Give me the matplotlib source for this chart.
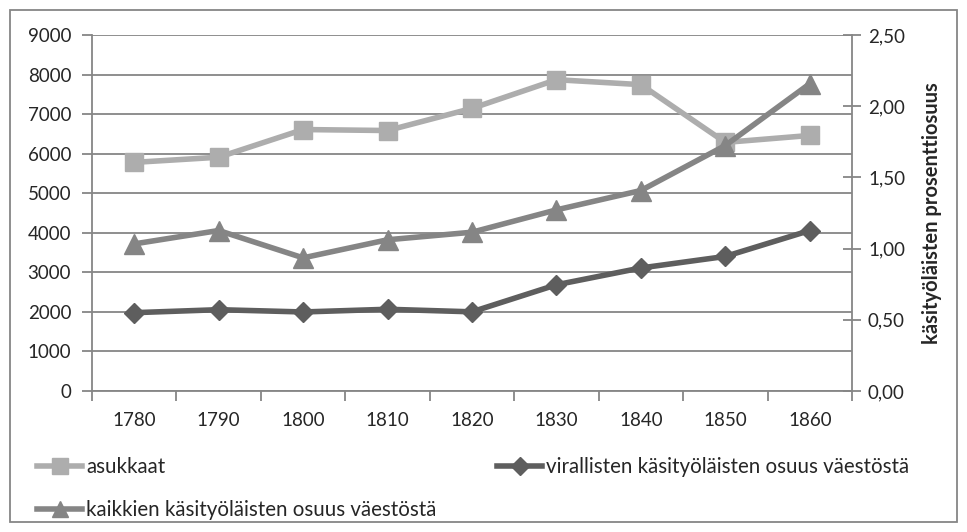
import matplotlib
matplotlib.use("Agg")
import matplotlib.pyplot as plt
from matplotlib.patches import Rectangle
from matplotlib.lines import Line2D
import numpy as np

years = ["1780", "1790", "1800", "1810", "1820", "1830", "1840", "1850", "1860"]
asukkaat = [5780, 5910, 6610, 6585, 7145, 7870, 7745, 6285, 6460]
virallisten = [0.550, 0.571, 0.555, 0.574, 0.556, 0.746, 0.864, 0.945, 1.127]
kaikkien = [1.033, 1.127, 0.935, 1.062, 1.115, 1.272, 1.408, 1.724, 2.158]

left_ticks = list(range(0, 9001, 1000))
right_ticks = [0.0, 0.5, 1.0, 1.5, 2.0, 2.5]
right_labels = ["0,00", "0,50", "1,00", "1,50", "2,00", "2,50"]
right_label = "käsityöläisten prosenttiosuus"
names = ["asukkaat", "virallisten käsityöläisten osuus väestöstä",
         "kaikkien käsityöläisten osuus väestöstä"]

plt.rcParams['font.family'] = ['Lato', 'DejaVu Sans']
FS = 13.5
FS_LEG = 14.8
AXC = "#868686"
c_as = "#ADADAD"
c_vir = "#5E5E5E"
c_kai = "#858585"
TXT = "#262626"

W, H = 967, 532
fig = plt.figure(figsize=(W / 100, H / 100), dpi=100)
fig.patch.set_facecolor("white")
fig.add_artist(Rectangle((10 / W, 1 - 522 / H), 947 / W, 512 / H, transform=fig.transFigure,
                         fill=False, edgecolor=AXC, linewidth=1.3))

L, R, T, B = 92, 852, 35, 391
ax = fig.add_axes([L / W, 1 - B / H, (R - L) / W, (B - T) / H])
ax2 = ax.twinx()

x = np.arange(len(years))
ax.plot(x, asukkaat, color=c_as, lw=4, marker="s", ms=13, zorder=3, clip_on=False)
ax2.plot(x, virallisten, color=c_vir, lw=4, marker="D", ms=10, zorder=3, clip_on=False)
ax2.plot(x, kaikkien, color=c_kai, lw=4, marker="^", ms=15, zorder=3, clip_on=False)

ax.set_xlim(-0.5, len(years) - 0.5)
ax.set_ylim(0, 9000)
ax2.set_ylim(0, 2.5)

ax.set_yticks(left_ticks)
ax.set_yticklabels([str(v) for v in left_ticks], fontsize=FS, color=TXT)
ax.yaxis.grid(True, color=AXC, lw=1.3, zorder=0)
ax.set_axisbelow(True)
ax.tick_params(axis="y", length=7, width=1.3, color=AXC, pad=8)

ax2.set_yticks(right_ticks)
ax2.set_yticklabels(right_labels, fontsize=FS, color=TXT)
ax2.tick_params(axis="y", direction="inout", length=13, width=1.3, color=AXC, pad=5)
ax2.set_ylabel(right_label, fontsize=14.5, fontweight="bold", color=TXT, labelpad=12)

ax.set_xticks(np.arange(-0.5, len(years) + 0.5, 1.0))
ax.set_xticklabels([])
ax.set_xticks(x, minor=True)
ax.set_xticklabels(years, minor=True, fontsize=FS, color=TXT)
ax.tick_params(axis="x", which="major", length=7, width=1.3, color=AXC)
ax.tick_params(axis="x", which="minor", length=0, pad=15)

for a in (ax, ax2):
    a.spines["top"].set_visible(False)
    for s in ("left", "right", "bottom"):
        a.spines[s].set_color(AXC)
        a.spines[s].set_linewidth(1.3)
ax.spines["right"].set_visible(False)
ax2.spines["left"].set_visible(False)
ax2.spines["bottom"].set_visible(False)

handles = [
    Line2D([], [], color=c_as, lw=4, marker="s", ms=11),
    Line2D([], [], color=c_vir, lw=4, marker="D", ms=9),
    Line2D([], [], color=c_kai, lw=4, marker="^", ms=12),
]
pos = [(37, 467), (497, 467), (37, 510)]
for h, n, (px, py) in zip(handles, names, pos):
    fig.legend([h], [n], loc="center left", bbox_to_anchor=(px / W, 1 - py / H),
               frameon=False, fontsize=FS_LEG, handlelength=2.2, handletextpad=0.2,
               borderpad=0, borderaxespad=0, labelcolor=TXT)

fig.savefig("out.png", dpi=100)
